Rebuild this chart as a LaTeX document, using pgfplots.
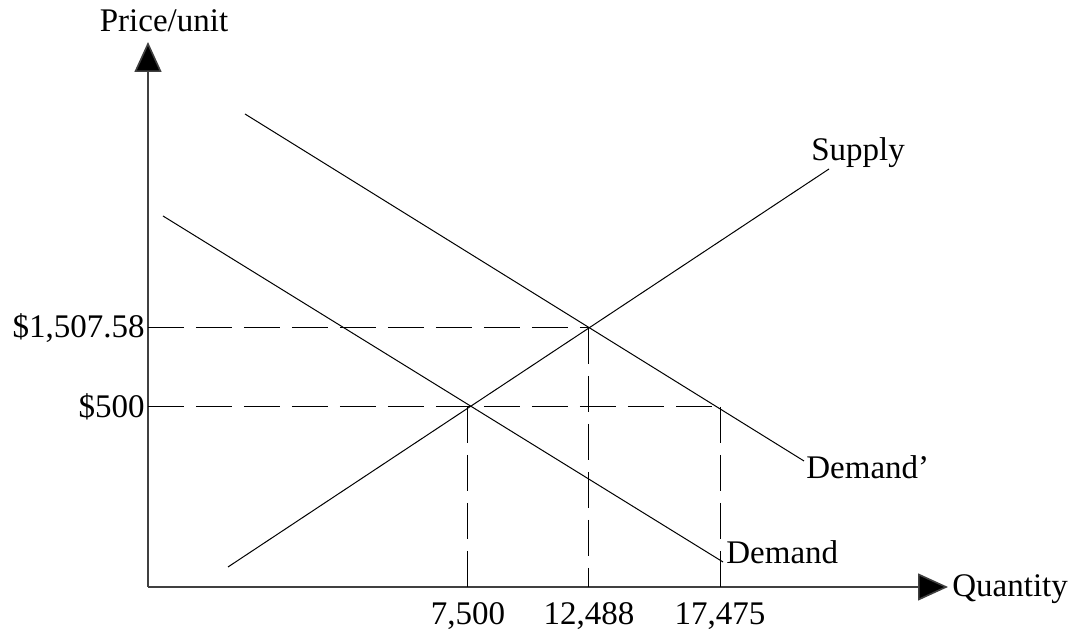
\documentclass[border=0pt]{standalone}
\usepackage{pgfplots}
\pgfplotsset{compat=1.18}
\usetikzlibrary{arrows.meta}
\usepackage{fontspec}
\setmainfont{Liberation Serif}
\begin{document}
\fontsize{16.5}{19.5}\selectfont
\begin{tikzpicture}
\begin{axis}[
  scale only axis,
  width=400pt, height=272.5pt,
  xmin=148, xmax=948, ymin=0, ymax=545,
  axis lines=left,
  axis line style={black!75, line width=0.8pt, -{Triangle[length=15pt,width=13.5pt,fill=black]}},
  xtick={468,589,720},
  xticklabels={{7,500},{12,488},{17,475}},
  ytick={180,259},
  yticklabels={{\$500},{\$1,507.58}},
  major tick length=0pt,
  tick label style={font=\fontsize{16.5}{19.5}\selectfont},
  xticklabel style={yshift=-2pt},
  yticklabel style={inner sep=1.5pt},
  clip=false,
]
% Supply
\addplot[black, line width=0.5pt] coordinates {(228,20) (829,418)};
% Demand
\addplot[black, line width=0.5pt] coordinates {(163,371) (723,25)};
% Demand'
\addplot[black, line width=0.5pt] coordinates {(245,473) (804,126)};
% dashed guides
\addplot[black, line width=0.5pt, dash pattern=on 18pt off 6pt] coordinates {(148,259) (589,259)};
\addplot[black, line width=0.5pt, dash pattern=on 18pt off 6pt] coordinates {(148,180) (720,180)};
\addplot[black, line width=0.5pt, dash pattern=on 18pt off 6pt] coordinates {(468,180) (468,0)};
\addplot[black, line width=0.5pt, dash pattern=on 18pt off 6pt] coordinates {(589,259) (589,0)};
\addplot[black, line width=0.5pt, dash pattern=on 18pt off 6pt] coordinates {(720,180) (720,0)};
% labels
\node[anchor=west, inner sep=0pt] at (axis cs:811,434) {Supply};
\node[anchor=west, inner sep=0pt] at (axis cs:806,120) {Demand'};
\node[anchor=west, inner sep=0pt] at (axis cs:726,35) {Demand};
\node[anchor=west, inner sep=0pt] at (axis cs:952,-2) {Quantity};
\node[anchor=center, inner sep=0pt] at (axis cs:164,566) {Price/unit};
\path (axis cs:0,-41) rectangle (axis cs:1073,587);
\end{axis}
\end{tikzpicture}
\end{document}
